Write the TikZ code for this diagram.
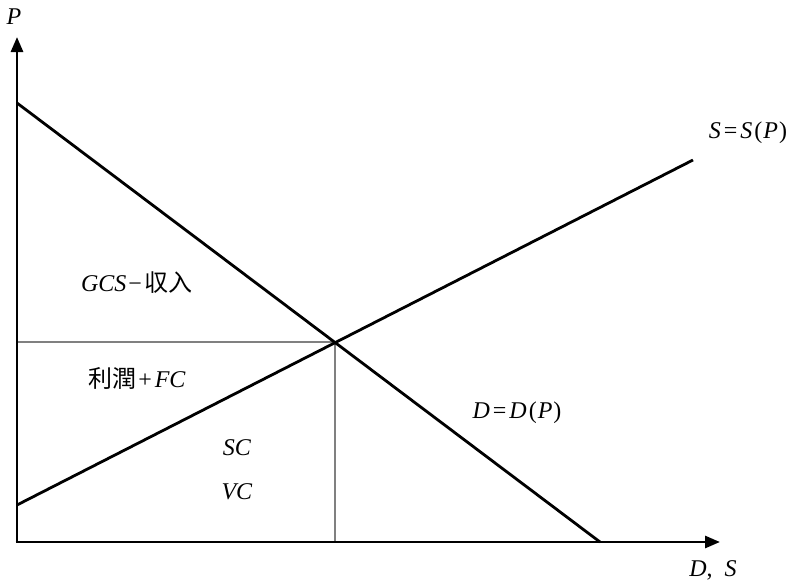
\documentclass[tikz,border=0pt]{standalone}
\usepackage{fontspec}
\setmainfont{Liberation Serif}
\newfontfamily\cjk{Noto Sans CJK SC}
\usetikzlibrary{arrows.meta}
\begin{document}
\begin{tikzpicture}[x=1pt,y=-1pt,
  axis/.style={line width=2.8pt,-{Triangle[length=15pt,width=12pt]}},
  curve/.style={line width=2.8pt},
  guide/.style={line width=1.3pt,draw=black!50},
  lbl/.style={inner sep=0pt,font=\fontsize{24}{28}\selectfont}]
\useasboundingbox (0,0) rectangle (796,581);
\coordinate (O) at (17,542);
\coordinate (Ytop) at (17,37);
\coordinate (Xend) at (720,542);
\coordinate (D1) at (17,103);
\coordinate (D2) at (600,542);
\coordinate (S1) at (17,505);
\coordinate (S2) at (693,160);
\coordinate (E) at (335,342);
\coordinate (Ey) at (17,342);
\coordinate (Ex) at (335,542);
\draw[guide] (Ey) -- (E) -- (Ex);
\draw[curve] (D1) -- (D2);
\draw[curve] (S1) -- (S2);
\draw[axis] ([yshift=1.4pt]O) -- (Ytop);
\draw[axis] ([xshift=-1.4pt]O) -- (Xend);
\node[lbl] (lP) at (14,17) {\textit{P}};
\node[lbl] (lS) at (748,133) {\textit{S}\kern3pt=\kern3pt\textit{S}\kern2pt(\kern1pt\textit{P}\kern1pt)};
\node[lbl] (lG) at (137,283) {\textit{GCS}\kern2pt−\kern3pt{\cjk 収入}};
\node[lbl] (lF) at (137,378) {{\cjk 利潤}\kern2pt+\kern3pt\textit{FC}};
\node[lbl] (lSC) at (237,448) {\textit{SC}};
\node[lbl] (lVC) at (237,492) {\textit{VC}};
\node[lbl] (lD) at (517,413) {\textit{D}\kern3pt=\kern3pt\textit{D}\kern2pt(\kern1pt\textit{P}\kern1pt)};
\node[lbl] (lX) at (713,570) {\textit{D},\enspace\textit{S}};
\end{tikzpicture}
\end{document}
